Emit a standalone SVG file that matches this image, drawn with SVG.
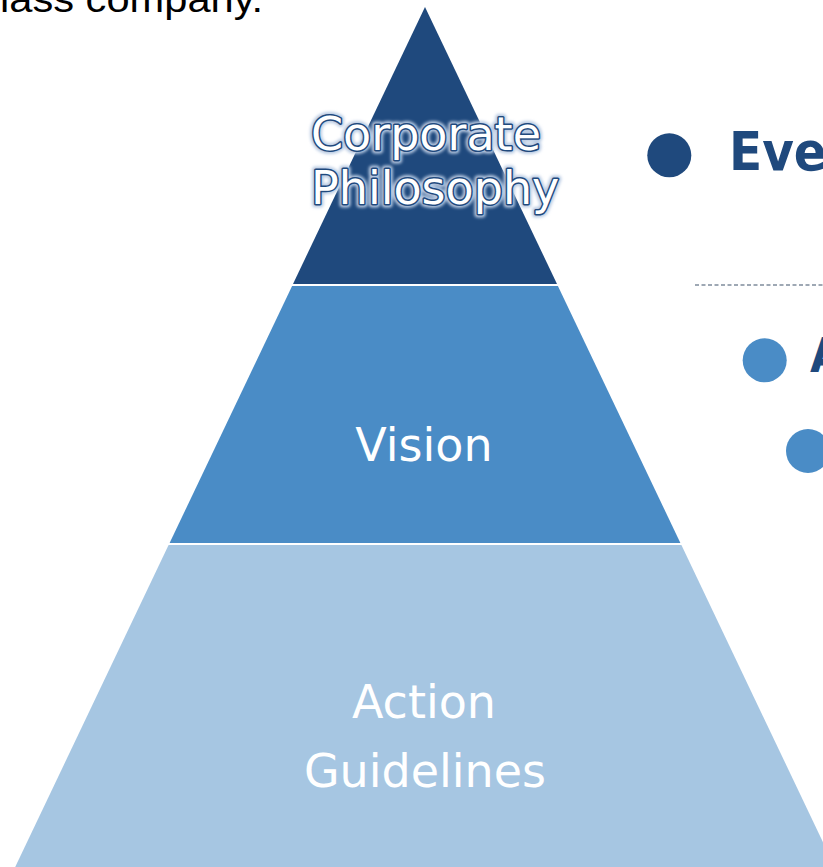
<svg xmlns="http://www.w3.org/2000/svg" width="823" height="867" viewBox="0 0 823 867">
  <defs>
    <style>
      .tier-label { font-family: "DejaVu Sans", Verdana, sans-serif; font-size: 46px; fill: #ffffff; text-anchor: middle; }
      .outlined { font-family: "DejaVu Sans", Verdana, sans-serif; font-size: 46px; text-anchor: start; }
      .bold-label { font-family: "DejaVu Sans Condensed", "DejaVu Sans", sans-serif; font-weight: bold; fill: #1f497d; }
      .dark { fill: #1f497d; }
      .mid { fill: #4a8cc6; }
      .light { fill: #a6c6e2; }
    </style>
    <filter id="glow" x="-10%" y="-20%" width="120%" height="140%">
      <feGaussianBlur stdDeviation="1.5"/>
    </filter>
  </defs>
  <rect width="823" height="867" fill="#ffffff"/>

  <text x="0" y="12" font-family="'Liberation Sans', Arial, sans-serif" font-size="36" fill="#000000" textLength="263" lengthAdjust="spacingAndGlyphs">lass company.</text>

  <g id="tier-corporate-philosophy">
    <polygon class="dark" points="425,7 557,284 293,284"/>
    <g class="outlined">
      <text x="311" y="150" fill="none" stroke="#b9cbe3" stroke-width="7" stroke-linejoin="round" filter="url(#glow)">Corporate</text>
      <text x="311" y="204" fill="none" stroke="#b9cbe3" stroke-width="7" stroke-linejoin="round" filter="url(#glow)">Philosophy</text>
      <text x="311" y="150" fill="#ffffff" stroke="#1f497d" stroke-width="3" stroke-linejoin="round" paint-order="stroke">Corporate</text>
      <text x="311" y="204" fill="#ffffff" stroke="#1f497d" stroke-width="3" stroke-linejoin="round" paint-order="stroke">Philosophy</text>
    </g>
  </g>

  <g id="tier-vision">
    <polygon class="mid" points="292.1,286 557.9,286 680.4,543 169.6,543"/>
    <text class="tier-label" x="424" y="461">Vision</text>
  </g>

  <g id="tier-action-guidelines">
    <polygon class="light" points="168.6,545 681.4,545 834.8,867 15.2,867"/>
    <text class="tier-label" x="424" y="718">Action</text>
    <text class="tier-label" x="425" y="787">Guidelines</text>
  </g>

  <g id="item-eve">
    <circle class="dark" cx="669.3" cy="155.3" r="22"/>
    <text class="bold-label" x="729" y="170" font-size="54">Eve</text>
  </g>

  <g id="connectors">
    <line x1="695" y1="285" x2="823" y2="285" stroke="#7f8c9c" stroke-width="1.5" stroke-dasharray="4 2.5"/>
  </g>

  <g id="item-a">
    <circle class="mid" cx="764.7" cy="360.3" r="22"/>
    <text class="bold-label" x="810" y="372" font-size="48">A</text>
  </g>

  <g id="item-b">
    <circle class="mid" cx="808" cy="451" r="22"/>
  </g>
</svg>
